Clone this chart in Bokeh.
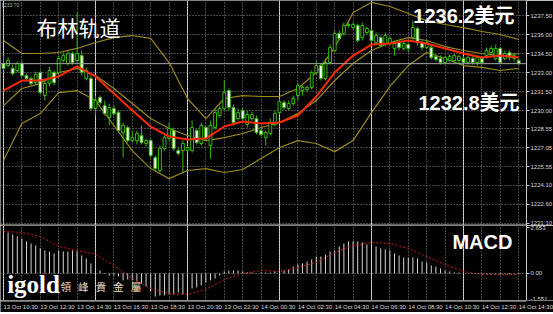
from bokeh.plotting import figure
from bokeh.layouts import column
from bokeh.models import (Range1d, FixedTicker, Grid, Span, Label, ColumnDataSource,
                          PrintfTickFormatter, LinearAxis)
from bokeh.core.properties import value
from bokeh.embed import file_html
from bokeh.resources import INLINE

# ---------------- data (15-minute candles, 13 Oct 10:30 -> 14 Oct 14:30) ----------------
open_ = [1233.71, 1233.55, 1233.32, 1233.16, 1233.71, 1232.76, 1232.53, 1232.21, 1233.00, 1231.18,
         1232.13, 1233.00, 1233.00, 1233.95, 1233.71, 1234.50, 1233.95, 1234.34, 1232.53, 1232.53,
         1230.16, 1231.03, 1230.39, 1229.45, 1230.16, 1229.84, 1228.27, 1228.66, 1227.63, 1227.63,
         1228.03, 1227.40, 1227.63, 1226.29, 1225.27, 1227.00, 1227.79, 1228.42, 1226.84, 1226.84,
         1226.84, 1226.84, 1228.42, 1227.40, 1228.66, 1227.24, 1228.66, 1229.61, 1230.16, 1231.58,
         1230.24, 1229.37, 1230.00, 1228.90, 1229.37, 1229.37, 1228.42, 1227.87, 1228.19, 1228.90,
         1229.84, 1230.63, 1230.16, 1230.55, 1231.18, 1231.58, 1231.66, 1231.82, 1233.00, 1233.55,
         1232.53, 1233.79, 1234.74, 1236.08, 1236.08, 1236.71, 1236.55, 1236.71, 1235.76, 1236.16,
         1236.32, 1235.37, 1235.76, 1235.29, 1235.29, 1234.90, 1235.37, 1234.90, 1235.21, 1235.76,
         1236.47, 1235.37, 1234.97, 1234.97, 1234.26, 1234.11, 1233.79, 1233.95, 1233.95, 1233.95,
         1234.11, 1233.79, 1234.11, 1233.79, 1234.11, 1234.34, 1234.58, 1234.11, 1234.90, 1234.11,
         1234.58, 1234.11, 1233.95]
high = [1234.34, 1234.19, 1233.63, 1233.87, 1233.95, 1232.92, 1232.69, 1233.08, 1233.16, 1232.37,
        1233.48, 1233.16, 1234.34, 1234.58, 1234.74, 1234.66, 1237.74, 1234.74, 1233.40, 1232.76,
        1231.11, 1231.18, 1230.79, 1230.55, 1230.39, 1230.00, 1229.05, 1228.82, 1228.42, 1228.42,
        1228.82, 1227.79, 1227.79, 1226.45, 1227.24, 1228.03, 1229.05, 1228.66, 1227.08, 1227.63,
        1227.24, 1229.21, 1228.58, 1229.05, 1228.82, 1229.21, 1230.16, 1230.39, 1232.37, 1231.74,
        1230.47, 1230.16, 1230.24, 1230.00, 1229.92, 1229.61, 1228.58, 1228.42, 1229.37, 1230.00,
        1230.95, 1230.79, 1230.79, 1231.18, 1232.21, 1231.97, 1231.97, 1233.16, 1233.95, 1233.71,
        1234.11, 1235.21, 1236.32, 1236.32, 1236.95, 1236.95, 1236.95, 1236.87, 1236.95, 1236.63,
        1236.47, 1236.16, 1235.92, 1236.16, 1235.84, 1235.53, 1235.53, 1235.45, 1235.37, 1237.10,
        1236.63, 1235.53, 1235.53, 1235.13, 1234.42, 1234.34, 1234.34, 1234.42, 1234.50, 1234.42,
        1234.26, 1234.34, 1234.26, 1234.34, 1234.26, 1234.97, 1235.13, 1235.21, 1235.05, 1234.74,
        1234.74, 1234.50, 1234.11]
low = [1233.16, 1233.40, 1232.76, 1233.00, 1232.61, 1232.37, 1231.97, 1232.05, 1231.26, 1230.79,
       1231.90, 1231.97, 1232.84, 1233.79, 1233.55, 1233.63, 1233.79, 1232.76, 1232.37, 1230.00,
       1229.61, 1230.47, 1229.61, 1228.82, 1229.61, 1228.27, 1226.29, 1227.48, 1227.48, 1227.32,
       1227.32, 1227.16, 1226.29, 1225.27, 1225.11, 1226.84, 1227.63, 1226.84, 1226.45, 1225.03,
       1226.69, 1226.69, 1227.32, 1227.24, 1227.63, 1226.21, 1228.50, 1229.45, 1230.00, 1230.00,
       1228.82, 1229.21, 1229.21, 1228.66, 1229.21, 1228.11, 1227.95, 1227.24, 1228.03, 1228.74,
       1229.69, 1230.08, 1230.00, 1230.39, 1230.79, 1231.18, 1231.42, 1231.66, 1232.84, 1232.37,
       1232.37, 1233.63, 1234.58, 1235.53, 1235.92, 1236.55, 1236.39, 1235.37, 1235.53, 1236.00,
       1235.37, 1235.13, 1234.97, 1235.05, 1235.13, 1234.34, 1234.74, 1234.74, 1234.58, 1235.53,
       1235.13, 1234.74, 1234.82, 1234.03, 1233.87, 1233.63, 1233.63, 1233.79, 1233.79, 1233.71,
       1233.63, 1233.63, 1233.63, 1233.55, 1233.63, 1234.11, 1234.34, 1233.95, 1233.71, 1233.95,
       1233.95, 1233.87, 1233.63]
close = [1233.32, 1233.95, 1232.92, 1233.71, 1232.76, 1232.53, 1232.13, 1232.84, 1231.42, 1232.13,
         1233.16, 1232.21, 1234.11, 1234.34, 1234.50, 1233.79, 1234.50, 1233.00, 1233.16, 1230.16,
         1230.79, 1230.63, 1229.76, 1230.24, 1229.76, 1228.42, 1228.82, 1227.63, 1227.87, 1228.19,
         1227.48, 1227.63, 1226.45, 1225.42, 1227.00, 1227.87, 1228.58, 1227.00, 1226.61, 1227.40,
         1227.08, 1228.66, 1227.48, 1228.82, 1227.79, 1228.82, 1229.84, 1230.16, 1231.42, 1230.24,
         1229.05, 1229.84, 1229.37, 1229.69, 1229.69, 1228.27, 1228.11, 1228.27, 1229.05, 1229.76,
         1230.71, 1230.24, 1230.55, 1230.95, 1231.97, 1231.82, 1231.82, 1233.00, 1233.55, 1232.53,
         1233.79, 1234.97, 1236.08, 1235.69, 1236.71, 1236.79, 1236.79, 1235.53, 1236.71, 1236.47,
         1235.53, 1235.92, 1235.13, 1235.92, 1235.69, 1235.29, 1234.97, 1235.29, 1234.90, 1236.55,
         1235.37, 1234.97, 1235.37, 1234.19, 1234.03, 1233.79, 1234.19, 1234.26, 1234.34, 1234.26,
         1233.79, 1234.19, 1233.79, 1234.19, 1233.79, 1234.74, 1234.90, 1234.90, 1233.79, 1234.50,
         1234.19, 1234.34, 1233.70]

# indicator lines, read every 4th candle (every hour)
line_idx = list(range(0, 113, 4))
bb_upper = [1235.53, 1234.50, 1234.50, 1234.58, 1234.90, 1235.37, 1235.76, 1235.92, 1235.69, 1233.79,
            1230.95, 1229.37, 1230.95, 1231.18, 1231.11, 1231.11, 1231.74, 1233.00, 1234.97, 1237.74,
            1238.53, 1238.21, 1237.66, 1237.10, 1236.79, 1236.55, 1236.24, 1236.00, 1235.61]
bb_middle = [1230.39, 1231.74, 1232.13, 1233.00, 1233.32, 1232.76, 1231.74, 1230.55, 1229.37, 1228.58,
             1228.03, 1227.63, 1227.87, 1228.19, 1228.66, 1229.05, 1229.76, 1230.79, 1232.37, 1233.71,
             1234.74, 1235.37, 1235.76, 1235.53, 1235.05, 1234.74, 1234.50, 1234.34, 1234.50]
bb_lower = [1226.06, 1228.98, 1229.76, 1231.42, 1231.58, 1230.79, 1228.82, 1226.84, 1225.42, 1224.63,
            1225.27, 1225.42, 1225.11, 1225.35, 1226.21, 1227.08, 1227.63, 1227.40, 1226.76, 1227.63,
            1229.84, 1231.90, 1233.55, 1234.58, 1234.11, 1233.55, 1233.40, 1233.16, 1233.32]
ma_red = [1231.58, 1232.37, 1232.37, 1232.69, 1233.48, 1232.69, 1231.34, 1230.00, 1228.74, 1227.95,
          1227.71, 1227.79, 1228.74, 1229.13, 1228.98, 1229.05, 1229.61, 1231.11, 1233.00, 1234.34,
          1235.21, 1235.29, 1235.53, 1235.29, 1234.90, 1234.50, 1234.19, 1234.34, 1234.19]

macd_hist = [2.43, 2.37, 2.25, 2.14, 2.02, 1.85, 1.73, 1.62, 1.45, 1.33,
             1.27, 1.16, 1.33, 1.27, 1.27, 1.33, 1.27, 1.04, 0.87, 0.58,
             0.29, 0.17, 0.03, -0.12, -0.12, -0.17, -0.40, -0.35, -0.40, -0.46,
             -0.58, -0.75, -1.04, -1.33, -1.27, -1.27, -1.21, -1.21, -1.10, -1.21,
             -1.10, -0.87, -0.81, -0.69, -0.52, -0.40, -0.29, -0.12, 0.12, 0.17,
             0.17, 0.17, 0.12, 0.06, 0.06, 0.02, 0.06, 0.06, 0.06, 0.12,
             0.12, 0.17, 0.23, 0.40, 0.52, 0.58, 0.69, 0.81, 0.98, 0.98,
             1.10, 1.27, 1.33, 1.56, 1.73, 1.85, 1.85, 1.85, 1.79, 1.68,
             1.73, 1.56, 1.45, 1.39, 1.33, 1.16, 1.04, 0.92, 0.92, 0.92,
             0.87, 0.69, 0.64, 0.46, 0.40, 0.29, 0.17, 0.12, 0.06, 0.06,
             0.01, -0.01, -0.02, -0.03, -0.05, -0.05, -0.05, -0.05, -0.05, -0.05,
             -0.05, -0.05, -0.05]
macd_signal = [2.43, 2.37, 2.14, 1.56, 1.33, 1.10, 0.46, -0.29, -0.87, -1.16,
               -1.21, -0.92, -0.35, 0.00, 0.17, 0.12, 0.35, 0.64, 1.21, 1.62,
               1.79, 1.73, 1.45, 0.98, 0.52, 0.12, -0.06, -0.06, -0.06]

price_ticks = [1221.10, 1222.60, 1224.10, 1225.55, 1227.05, 1228.55, 1230.00, 1231.50, 1233.00,
               1234.50, 1236.00, 1237.50]
last_price = 1233.70
macd_ticks = [2.653, 0.0, -1.551]
macd_tick_labels = ["2.653", "0.00", "-1.551"]
time_ticks = [0, 8, 16, 24, 32, 40, 48, 56, 64, 72, 80, 88, 96, 104, 112]
time_labels = ["13 Oct 10:30", "13 Oct 12:30", "13 Oct 14:30", "13 Oct 16:30", "13 Oct 18:30",
               "13 Oct 20:30", "13 Oct 22:30", "14 Oct 00:30", "14 Oct 02:30", "14 Oct 04:30",
               "14 Oct 06:30", "14 Oct 08:30", "14 Oct 10:30", "14 Oct 12:30", "14 Oct 14:30"]
hour_ticks = list(range(0, 113, 4))

# ---------------- styling ----------------
BG = "#000000"
GREEN = "#34b800"
OLIVE = "#9c8a14"
RED = "#ff2a00"
GRID = "#8a8a8a"
AXIS = "#c8c8c8"
LABEL = "#d8d8d8"
SMALL = "6px"
FRAME_W = 526           # width of the chart area (price scale to its right)
PX_PER_BAR = 4.6        # horizontal pixels per 15-minute bar
TOTAL_W = 553
GAP = " \u00a0\u00a0"   # wide letter spacing of the logo's Chinese name

idx = list(range(len(close)))
bull = [c >= o for o, c in zip(open_, close)]
src = ColumnDataSource(dict(
    x=idx, high=high, low=low,
    top=[max(o, c) for o, c in zip(open_, close)],
    bottom=[min(o, c) for o, c in zip(open_, close)],
    fill=["#000000" if b else "#ffffff" for b in bull],
))

x0 = -0.65
xr = Range1d(x0, x0 + FRAME_W / PX_PER_BAR)

p = figure(frame_width=FRAME_W, frame_height=225, x_range=xr, y_range=Range1d(1220.93, 1238.684),
           output_backend="svg", toolbar_location=None, x_axis_location=None, y_axis_location="right",
           background_fill_color=BG, border_fill_color=BG, outline_line_color=None,
           min_border_left=0, min_border_top=0, min_border_bottom=0, min_border_right=27)
p.yaxis.ticker = FixedTicker(ticks=price_ticks)
p.yaxis.formatter = PrintfTickFormatter(format="%.2f")
p.yaxis.major_label_text_font_size = SMALL
p.yaxis.major_label_text_color = LABEL
p.yaxis.major_label_text_font = "Liberation Sans"
p.yaxis.axis_line_color = AXIS
p.yaxis.major_tick_line_color = AXIS
p.yaxis.major_tick_out = 3
p.yaxis.major_tick_in = 0
p.yaxis.minor_tick_line_color = None
p.yaxis.major_label_standoff = 1
p.ygrid.grid_line_color = GRID
p.ygrid.grid_line_dash = "1 2"
p.add_layout(Grid(dimension=0, ticker=FixedTicker(ticks=hour_ticks), grid_line_color=GRID,
                  grid_line_dash="1 2"))

sep = LinearAxis(ticker=FixedTicker(ticks=[]), major_tick_out=0, major_tick_in=0,
                 major_label_standoff=0, minor_tick_line_color=None,
                 axis_line_color=AXIS, axis_line_width=2)
p.add_layout(sep, "below")

p.add_layout(Span(location=last_price, dimension="width", line_color="#a8a8a8", line_width=1))

p.line(line_idx, bb_upper, line_color=OLIVE, line_width=1.2)
p.line(line_idx, bb_middle, line_color=OLIVE, line_width=1.2)
p.line(line_idx, bb_lower, line_color=OLIVE, line_width=1.2)
p.segment(x0="x", y0="high", x1="x", y1="low", source=src, line_color=GREEN, line_width=1)
p.vbar(x="x", top="top", bottom="bottom", width=0.62, fill_color="fill", line_color=GREEN,
       line_width=1, source=src)
p.line(line_idx, ma_red, line_color=RED, line_width=2)

p.add_layout(Label(x=113.95, y=last_price, text=f"{last_price:.2f}", text_font_size=SMALL,
                   text_color="#ffffff", text_baseline="middle", text_font="Liberation Sans",
                   background_fill_color="#000000", border_line_color="#e0e0e0"))
p.add_layout(Label(x=-0.5, y=1238.29, text="1233.70", text_font_size="5px", text_color="#b0b0b0",
                   text_baseline="middle"))
p.add_layout(Label(x=7.2, y=1236.63, text="布林轨道", text_font_size="21px", text_color="#ffffff",
                   text_font="Noto Sans CJK SC", text_baseline="middle"))
p.add_layout(Label(x=89.1, y=1237.45, text="1236.2美元", text_font_size="20px", text_color="#ffffff",
                   text_font="Liberation Sans, Noto Sans CJK SC", text_font_style="bold",
                   text_baseline="middle"))
p.add_layout(Label(x=90.2, y=1230.63, text="1232.8美元", text_font_size="20px", text_color="#ffffff",
                   text_font="Liberation Sans, Noto Sans CJK SC", text_font_style="bold",
                   text_baseline="middle"))

# ---------------- MACD panel ----------------
macd_lo, macd_hi = -1.56, 2.77
m = figure(frame_width=FRAME_W, frame_height=75, x_range=xr, y_range=Range1d(macd_lo, macd_hi),
           output_backend="svg", toolbar_location=None, x_axis_location=None, y_axis_location="right",
           background_fill_color=BG, border_fill_color=BG, outline_line_color=None,
           min_border_left=0, min_border_top=0, min_border_bottom=0, min_border_right=27)
m.yaxis.ticker = FixedTicker(ticks=macd_ticks)
m.yaxis.major_label_overrides = {t: s for t, s in zip(macd_ticks, macd_tick_labels)}
m.yaxis.major_label_text_font_size = SMALL
m.yaxis.major_label_text_color = LABEL
m.yaxis.major_label_text_font = "Liberation Sans"
m.yaxis.axis_line_color = AXIS
m.yaxis.major_tick_line_color = AXIS
m.yaxis.major_tick_out = 3
m.yaxis.major_tick_in = 0
m.yaxis.minor_tick_line_color = None
m.yaxis.major_label_standoff = 1
m.ygrid.grid_line_color = None
m.add_layout(Grid(dimension=0, ticker=FixedTicker(ticks=hour_ticks), grid_line_color=GRID,
                  grid_line_dash="1 2"))
m.add_layout(Span(location=0, dimension="width", line_color=GRID, line_dash="1 2", line_width=1))

m.segment(x0=idx, y0=[0] * len(idx), x1=idx, y1=macd_hist, line_color="#d4d4d4", line_width=1)
m.line(line_idx, macd_signal, line_color="#d01818", line_width=1, line_dash="2 2")

m.add_layout(Label(x=97.6, y=1.79, text="MACD", text_font_size="20px", text_color="#ffffff",
                   text_font="Liberation Sans", text_font_style="bold", text_baseline="middle"))
m.add_layout(Label(x=0.8, y=-0.62, text="igold", text_font_size="25px", text_color="#ffffff",
                   text_font="Liberation Serif", text_font_style="bold", text_baseline="middle"))
m.add_layout(Label(x=12.4, y=-0.78, text=GAP.join("領峰貴金屬"), text_font_size="10.5px",
                   text_color="#e8dcc8", text_font="Noto Sans CJK TC", text_baseline="middle"))

# ---------------- time scale strip (labels start at their hour line, MT4 style) ----------------
t = figure(frame_width=TOTAL_W, frame_height=12, x_range=Range1d(x0, x0 + TOTAL_W / PX_PER_BAR),
           y_range=Range1d(0, 12), output_backend="svg", toolbar_location=None,
           x_axis_location=None, y_axis_location=None, background_fill_color=BG, border_fill_color=BG,
           outline_line_color=None, min_border=0)
t.xgrid.visible = False
t.ygrid.visible = False
t.segment(x0=[xr.start], y0=[11.5], x1=[xr.end], y1=[11.5], line_color=AXIS, line_width=1)
t.text(x=time_ticks, y=[5.5] * len(time_ticks), text=time_labels, text_align="left",
       text_baseline="middle", text_font=value("Liberation Sans"), text_font_size=value(SMALL),
       text_color=LABEL)

layout = column(p, m, t, spacing=0)
open("out.html", "w").write(file_html(layout, INLINE))
